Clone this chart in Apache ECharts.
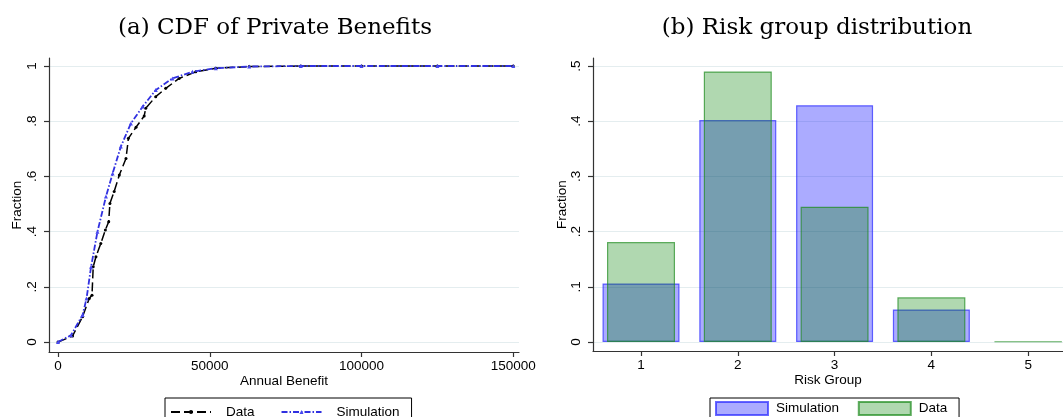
<!DOCTYPE html>
<html>
  <head>
    <meta charset="utf-8" />
    <title>CDF and risk groups</title>
    <script src="https://cdn.jsdelivr.net/npm/echarts@6/dist/echarts.min.js"></script>
    <style>
      html, body { margin: 0; padding: 0; background: #fff; }
    </style>
  </head>
  <body>
    <div id="main" style="width: 1063px; height: 417px"></div>
    <script type="text/javascript">
      // panel (a): CDF of annual benefit
      var dataX = [0, 4800, 8100, 10300, 11200, 11600, 12500, 14100, 15600, 16700, 17100, 18500, 20200, 22400, 23200, 25700, 28400, 28900, 32200, 35500, 39900, 45400, 52000, 63000, 80000, 100000, 125000, 150000];
      var dataY = [0, 0.022, 0.092, 0.158, 0.170, 0.273, 0.309, 0.357, 0.406, 0.436, 0.502, 0.545, 0.605, 0.665, 0.738, 0.778, 0.819, 0.847, 0.889, 0.919, 0.955, 0.979, 0.992, 0.998, 1, 1, 1, 1];
      var simX = [0, 4300, 8100, 9400, 10900, 13000, 15800, 18000, 20700, 24000, 27900, 32200, 37700, 44300, 52000, 63000, 80000, 100000, 125000, 150000];
      var simY = [0, 0.025, 0.098, 0.158, 0.273, 0.400, 0.527, 0.611, 0.708, 0.792, 0.853, 0.913, 0.955, 0.979, 0.992, 0.998, 1, 1, 1, 1];
      var cdfXTicks = [0, 50000, 100000, 150000];
      var cdfYTicks = [0, 0.2, 0.4, 0.6, 0.8, 1];

      // panel (b): risk group shares
      var riskGroups = [1, 2, 3, 4, 5];
      var simShare = [0.106, 0.402, 0.429, 0.059, 0];
      var dataShare = [0.181, 0.490, 0.245, 0.081, 0.001];
      var riskYTicks = [0, 0.1, 0.2, 0.3, 0.4, 0.5];

      function pairs(xs, ys) {
        // zero-height bars are not drawn
        return xs.map(function (x, i) { return [x, ys[i] === 0 ? null : ys[i]]; });
      }
      function stataNum(v) {
        if (v === 0) return "0";
        if (v === 1) return "1";
        return String(v).replace(/^0/, "");
      }

      var sans = "Liberation Sans, Arial, sans-serif";
      var gridColor = "#e4edef";
      var axisColor = "#333";

      var yAxisBase = {
        type: "value",
        name: "Fraction",
        nameLocation: "middle",
        nameGap: 25,
        nameRotate: 90,
        nameMoveOverlap: false,
        nameTextStyle: { fontFamily: sans, fontSize: 13.5, color: "#000" },
        axisLine: { show: true, onZero: false, lineStyle: { color: axisColor, width: 1.2 } },
        axisTick: { show: true, length: 5, lineStyle: { color: axisColor, width: 1.2 } },
        axisLabel: { rotate: 90, margin: 10, fontFamily: sans, fontSize: 13.5, color: "#000", formatter: stataNum },
        splitLine: { show: true, lineStyle: { color: gridColor, width: 1 } },
      };
      var xAxisBase = {
        type: "value",
        nameLocation: "middle",
        nameGap: 22,
        nameMoveOverlap: false,
        nameTextStyle: { fontFamily: sans, fontSize: 13.5, color: "#000" },
        axisLine: { show: true, onZero: false, lineStyle: { color: axisColor, width: 1.2 } },
        axisTick: { show: true, length: 5, lineStyle: { color: axisColor, width: 1.2 } },
        axisLabel: { margin: 7, fontFamily: sans, fontSize: 13.5, color: "#000", formatter: function (v) { return String(v); } },
        splitLine: { show: false },
      };

      var myChart = echarts.init(document.getElementById("main"), null, { renderer: "canvas" });

      var titleStyle = { fontFamily: "DejaVu Serif", fontSize: 23, fontWeight: "normal", color: "#000" };

      var option = {
        animation: false,
        backgroundColor: "#fff",
        title: [
          { text: "(a) CDF of Private Benefits", left: 270, top: 12, textAlign: "center", textStyle: titleStyle },
          { text: "(b) Risk group distribution", left: 812, top: 12, textAlign: "center", textStyle: titleStyle },
        ],
        legend: [
          {
            data: ["Data", "Simulation"],
            left: 165, top: 398,
            orient: "horizontal",
            padding: [7, 12, 8, 5],
            borderColor: "#000", borderWidth: 1, borderRadius: 0,
            itemWidth: 40, itemHeight: 5, itemGap: 26,
            textStyle: { fontFamily: sans, fontSize: 13.5, color: "#000", padding: [0, 0, 0, 10] },
            selectedMode: false,
          },
          {
            data: [
              { name: "Simulation ", icon: "rect" },
              { name: "Data ", icon: "rect" },
            ],
            left: 710, top: 398,
            padding: [3, 8, 6, 5],
            borderColor: "#000", borderWidth: 1, borderRadius: 0,
            itemWidth: 52, itemHeight: 13, itemGap: 15,
            textStyle: { fontFamily: sans, fontSize: 13.5, color: "#000", padding: [0, 0, 0, 3] },
            selectedMode: false,
          },
        ],
        grid: [
          { left: 49, right: 544, top: 58, bottom: 65 },
          { left: 593, right: 0, top: 58, bottom: 66 },
        ],
        xAxis: [
          Object.assign({}, xAxisBase, {
            gridIndex: 0, min: -2970, max: 151900, name: "Annual Benefit",
            axisTick: Object.assign({}, xAxisBase.axisTick, { customValues: cdfXTicks }),
            axisLabel: Object.assign({}, xAxisBase.axisLabel, { customValues: cdfXTicks }),
          }),
          Object.assign({}, xAxisBase, {
            gridIndex: 1, min: 0.504, max: 5.36, name: "Risk Group",
            axisTick: Object.assign({}, xAxisBase.axisTick, { customValues: riskGroups }),
            axisLabel: Object.assign({}, xAxisBase.axisLabel, { customValues: riskGroups }),
          }),
          { type: "value", gridIndex: 1, min: 0.504, max: 5.36, show: false },
        ],
        yAxis: [
          Object.assign({}, yAxisBase, {
            gridIndex: 0, min: -0.036, max: 1.029,
            axisTick: Object.assign({}, yAxisBase.axisTick, { customValues: cdfYTicks }),
            axisLabel: Object.assign({}, yAxisBase.axisLabel, { customValues: cdfYTicks }),
            splitLine: Object.assign({}, yAxisBase.splitLine, { customValues: cdfYTicks }),
          }),
          Object.assign({}, yAxisBase, {
            gridIndex: 1, min: -0.0163, max: 0.5145, nameGap: 24,
            axisTick: Object.assign({}, yAxisBase.axisTick, { customValues: riskYTicks }),
            axisLabel: Object.assign({}, yAxisBase.axisLabel, { customValues: riskYTicks }),
            splitLine: Object.assign({}, yAxisBase.splitLine, { customValues: riskYTicks }),
          }),
        ],
        series: [
          {
            name: "Data", type: "line", xAxisIndex: 0, yAxisIndex: 0,
            data: dataX.map(function (x, i) { return [x, dataY[i]]; }),
            symbol: "circle", symbolSize: 3, showSymbol: true,
            itemStyle: { color: "#000" },
            lineStyle: { color: "#000", width: 1.5, type: [9, 4] },
            z: 3,
          },
          {
            name: "Simulation", type: "line", xAxisIndex: 0, yAxisIndex: 0,
            data: simX.map(function (x, i) { return [x, simY[i]]; }),
            symbol: "triangle", symbolSize: 4, showSymbol: true,
            itemStyle: { color: "#4848f0" },
            lineStyle: { color: "#3030e0", width: 1.8, type: [6, 2, 1.5, 2] },
            z: 4,
          },
          {
            name: "Simulation ", type: "bar", xAxisIndex: 1, yAxisIndex: 1,
            data: pairs(riskGroups, simShare),
            barWidth: 77,
            itemStyle: { color: "rgba(0,0,255,0.33)", borderColor: "rgba(40,40,255,0.7)", borderWidth: 1.2 },
            z: 2,
          },
          {
            name: "Data ", type: "bar", xAxisIndex: 2, yAxisIndex: 1,
            data: pairs(riskGroups, dataShare),
            barWidth: 68,
            itemStyle: { color: "rgba(0,130,0,0.31)", borderColor: "rgba(30,140,30,0.7)", borderWidth: 1.2 },
            z: 3,
          },
        ],
      };

      myChart.setOption(option);
    </script>
  </body>
</html>
